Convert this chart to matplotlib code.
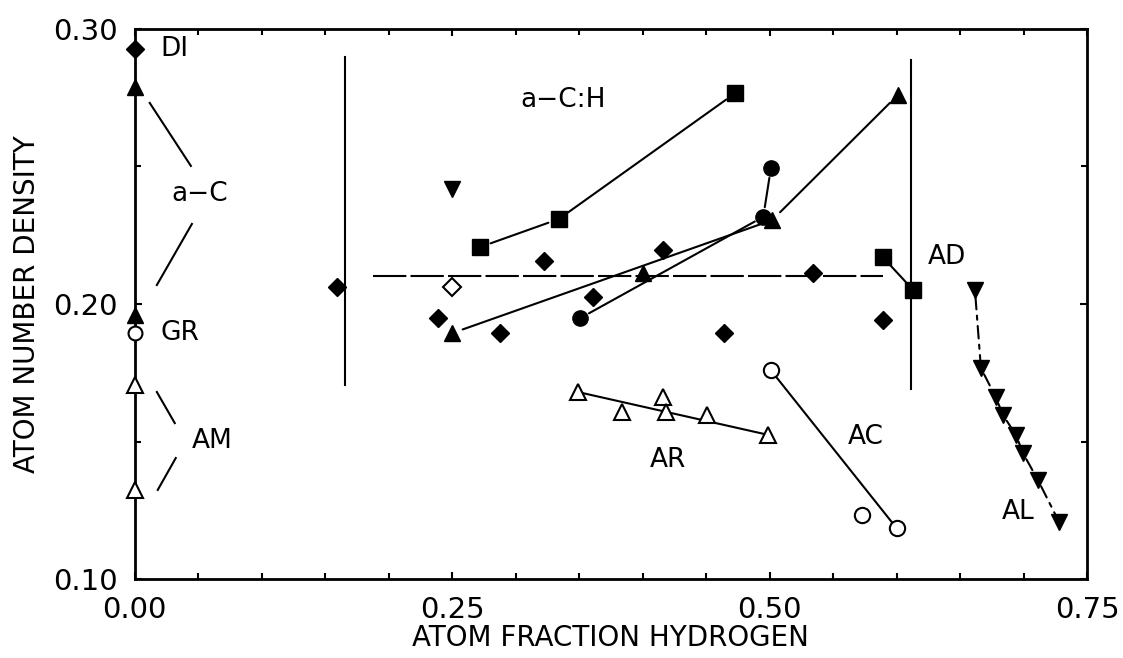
import matplotlib
matplotlib.use("Agg")
import matplotlib.pyplot as plt
from matplotlib.ticker import MultipleLocator

plt.rcParams['font.family'] = ['DejaVu Sans']

# a-C:H film data (filled squares, triangles, circles, diamonds)
sq_x = [0.272, 0.334, 0.473]
sq_y = [0.2207, 0.2309, 0.2767]
sq2_x = [0.589, 0.613]
sq2_y = [0.2171, 0.2051]
tri_x = [0.250, 0.502, 0.601]
tri_y = [0.1894, 0.2305, 0.276]
tri1_x = [0.4006]
tri1_y = [0.2111]
circ_x = [0.351, 0.495, 0.501]
circ_y = [0.1949, 0.2317, 0.2494]
diam_x = [0.159, 0.239, 0.288, 0.322, 0.361, 0.4164, 0.4637, 0.534, 0.589]
diam_y = [0.2062, 0.1949, 0.1894, 0.2156, 0.2025, 0.2196, 0.1894, 0.2111, 0.1942]
odiam_x = [0.250]
odiam_y = [0.2062]
dtri1_x = [0.250]
dtri1_y = [0.2418]

# AL, AC, AR series
al_x = [0.6617, 0.6664, 0.678, 0.6838, 0.694, 0.6995, 0.7113, 0.728]
al_y = [0.2051, 0.1767, 0.1662, 0.1596, 0.1524, 0.1458, 0.136, 0.1207]
ac_x = [0.5008, 0.573, 0.600]
ac_y = [0.176, 0.1233, 0.1185]
ar_x = [0.349, 0.384, 0.4164, 0.418, 0.451, 0.499]
ar_y = [0.168, 0.1607, 0.1662, 0.1607, 0.1596, 0.1524]

# reference materials at zero hydrogen
di_y = [0.2927]
ac0_y = [0.279, 0.196]
gr_y = [0.1895]
am_y = [0.1705, 0.1324]

# a-C:H region bounds and mean density
bound_x = [0.1656, 0.611]
bound_lo = [0.1705, 0.169]
bound_hi = [0.2898, 0.2887]
mean_x = [0.188, 0.589]
mean_y = 0.210

# leader lines for labels near the y axis
lead_ac = [([0.0118, 0.0442], [0.2731, 0.2502]), ([0.045, 0.0174], [0.2291, 0.2069])]
lead_am = [([0.0174, 0.0315], [0.168, 0.1567]), ([0.0323, 0.0181], [0.144, 0.1324])]

fig = plt.figure(figsize=(11.23, 6.58), dpi=100)
ax = fig.add_axes([0.120, 0.120, 0.848, 0.836])

lw = 1.5
fs = 21
fs_lab = 20
fs_in = 19


def connect(xs, ys, gap=8, **kw):
    # segments stop short of the markers, like the original plotter output
    for i in range(len(xs) - 1):
        ax.annotate('', xy=(xs[i + 1], ys[i + 1]), xytext=(xs[i], ys[i]),
                    arrowprops=dict(arrowstyle='-', color='black', lw=lw,
                                    shrinkA=gap, shrinkB=gap, **kw))


for x, lo, hi in zip(bound_x, bound_lo, bound_hi):
    ax.plot([x, x], [lo, hi], color='black', lw=lw)
ax.plot(mean_x, [mean_y, mean_y], color='black', lw=lw, dashes=(16, 2))

connect(sq_x, sq_y)
connect(sq2_x, sq2_y, gap=6)
connect(tri_x, tri_y)
connect(circ_x, circ_y, gap=7)
connect(al_x, al_y, gap=5, linestyle=(0, (6, 3, 2, 3)))

ax.plot(sq_x, sq_y, color='black', ls='none', marker='s', ms=11)
ax.plot(sq2_x, sq2_y, color='black', ls='none', marker='s', ms=11)
ax.plot(tri_x, tri_y, color='black', ls='none', marker='^', ms=12)
ax.plot(tri1_x, tri1_y, color='black', ls='none', marker='^', ms=12)
ax.plot(circ_x, circ_y, color='black', ls='none', marker='o', ms=11)
ax.plot(diam_x, diam_y, color='black', ls='none', marker='D', ms=9)
ax.plot(odiam_x, odiam_y, ls='none', marker='D', ms=9, mfc='white', mec='black', mew=1.5)
ax.plot(dtri1_x, dtri1_y, color='black', ls='none', marker='v', ms=12)
ax.plot(al_x, al_y, color='black', ls='none', marker='v', ms=12)

ax.plot([ac_x[0], ac_x[-1]], [ac_y[0], ac_y[-1]], color='black', lw=lw)
ax.plot(ac_x, ac_y, ls='none', marker='o', ms=11, mfc='white', mec='black', mew=1.5)
ax.plot([ar_x[0], ar_x[-1]], [ar_y[0], ar_y[-1]], color='black', lw=lw)
ax.plot(ar_x, ar_y, ls='none', marker='^', ms=11, mfc='white', mec='black', mew=1.5)

ax.plot([0] * len(di_y), di_y, color='black', ls='none', marker='D', ms=9, clip_on=False, zorder=5)
ax.plot([0] * len(ac0_y), ac0_y, color='black', ls='none', marker='^', ms=12, clip_on=False, zorder=5)
ax.plot([0] * len(gr_y), gr_y, ls='none', marker='o', ms=10, mfc='white', mec='black', mew=1.5,
        clip_on=False, zorder=5)
ax.plot([0] * len(am_y), am_y, ls='none', marker='^', ms=11, mfc='white', mec='black', mew=1.5,
        clip_on=False, zorder=5)

for xs, ys in lead_ac + lead_am:
    ax.plot(xs, ys, color='black', lw=lw)

ax.text(0.020, 0.2927, 'DI', fontsize=fs_in, va='center')
ax.text(0.051, 0.240, 'a\u2212C', fontsize=fs_in, va='center', ha='center')
ax.text(0.020, 0.1895, 'GR', fontsize=fs_in, va='center')
ax.text(0.061, 0.1503, 'AM', fontsize=fs_in, va='center', ha='center')
ax.text(0.337, 0.274, 'a\u2212C:H', fontsize=fs_in, va='center', ha='center')
ax.text(0.640, 0.217, 'AD', fontsize=fs_in, va='center', ha='center')
ax.text(0.576, 0.1516, 'AC', fontsize=fs_in, va='center', ha='center')
ax.text(0.420, 0.1433, 'AR', fontsize=fs_in, va='center', ha='center')
ax.text(0.6956, 0.1244, 'AL', fontsize=fs_in, va='center', ha='center')

ax.set_xlim(0, 0.75)
ax.set_ylim(0.10, 0.30)
ax.set_xticks([0.00, 0.25, 0.50, 0.75])
ax.set_xticklabels(['0.00', '0.25', '0.50', '0.75'])
ax.set_yticks([0.10, 0.20, 0.30])
ax.set_yticklabels(['0.10', '0.20', '0.30'])
ax.xaxis.set_minor_locator(MultipleLocator(0.05))
ax.yaxis.set_minor_locator(MultipleLocator(0.05))
ax.tick_params(which='both', direction='in', top=True, right=True, width=1.5, labelsize=fs)
ax.tick_params(which='major', length=5)
ax.tick_params(which='minor', length=4)
ax.tick_params(axis='x', pad=12)
ax.tick_params(axis='y', pad=12)
for s in ax.spines.values():
    s.set_linewidth(2)

ax.set_xlabel('ATOM FRACTION HYDROGEN', fontsize=fs_lab, labelpad=0)
ax.set_ylabel('ATOM NUMBER DENSITY', fontsize=fs_lab, labelpad=9)

fig.savefig('out.png', dpi=100)
